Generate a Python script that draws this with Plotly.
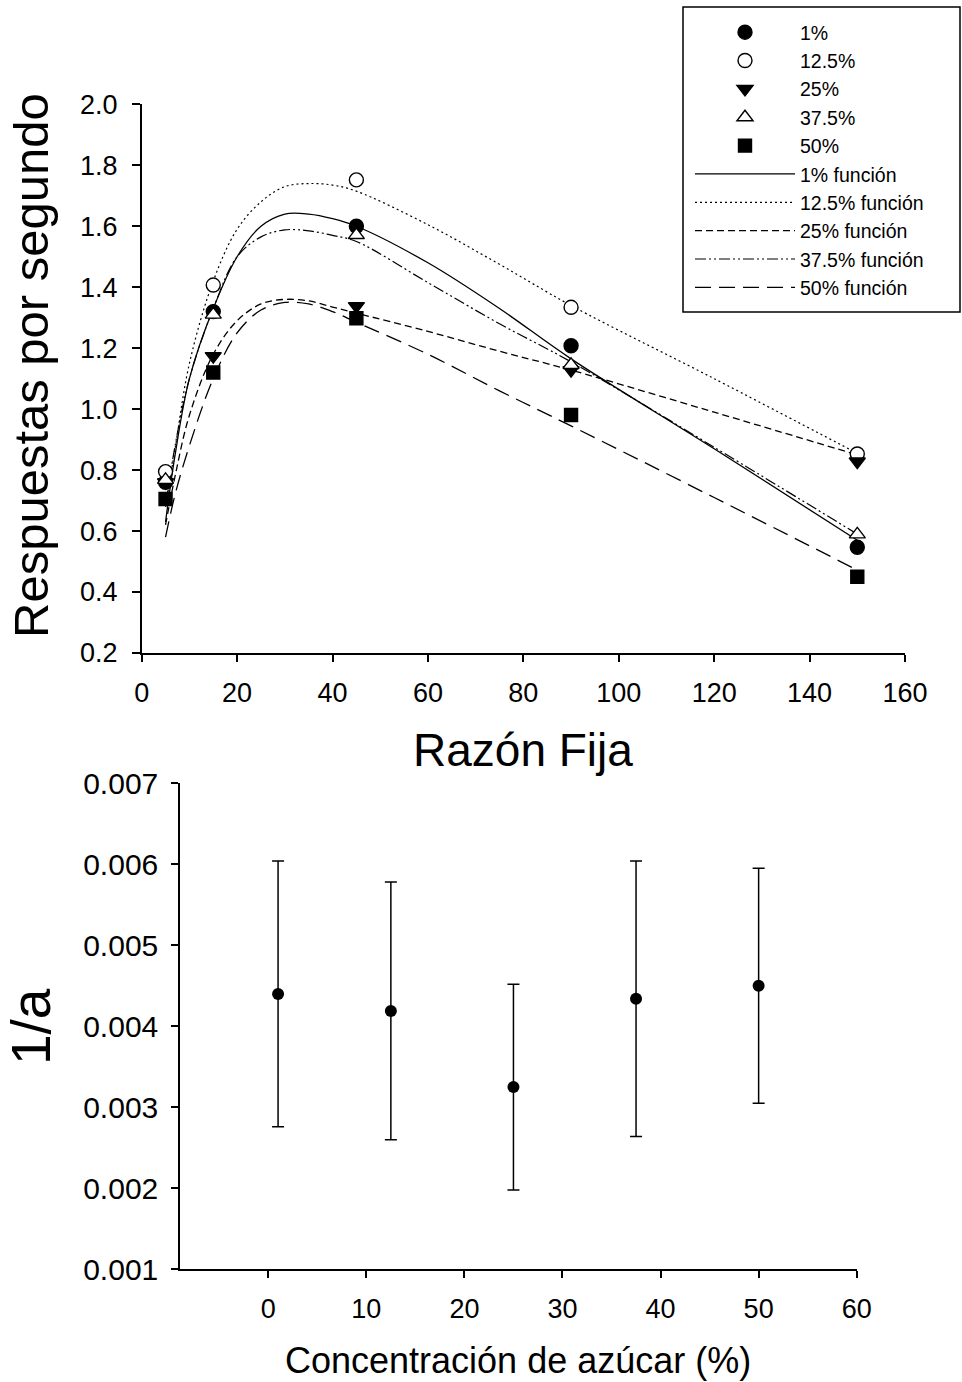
import plotly.graph_objects as go

# ---------------- data: responses per second vs fixed ratio ----------------
razon = [5, 15, 45, 90, 150]
grupos = ["1%", "12.5%", "25%", "37.5%", "50%"]
resp_1 = [0.76, 1.32, 1.60, 1.208, 0.547]
resp_125 = [0.795, 1.407, 1.752, 1.334, 0.853]
resp_25 = [0.76, 1.174, 1.338, 1.128, 0.828]
resp_375 = [0.768, 1.31, 1.571, 1.145, 0.589]
resp_50 = [0.705, 1.12, 1.298, 0.981, 0.450]

# fitted function curves, sampled along the fixed ratio axis
curva_x = [5, 7, 10, 15, 20, 25, 30, 35, 40, 45, 60, 75, 90, 120, 150]
fun_1 = [0.63, 0.85, 1.10, 1.33, 1.50, 1.60, 1.64, 1.64, 1.625, 1.60, 1.48, 1.33, 1.165, 0.87, 0.57]
fun_125 = [0.68, 0.87, 1.15, 1.42, 1.59, 1.68, 1.73, 1.74, 1.735, 1.715, 1.605, 1.475, 1.34, 1.10, 0.855]
fun_25 = [0.62, 0.78, 0.98, 1.18, 1.29, 1.345, 1.36, 1.355, 1.335, 1.315, 1.255, 1.19, 1.128, 0.99, 0.85]
fun_375 = [0.68, 0.88, 1.10, 1.33, 1.50, 1.565, 1.588, 1.585, 1.57, 1.55, 1.415, 1.28, 1.155, 0.875, 0.59]
fun_50 = [0.58, 0.72, 0.88, 1.10, 1.25, 1.325, 1.35, 1.345, 1.32, 1.285, 1.18, 1.06, 0.945, 0.71, 0.472]

# ---------------- data: 1/a vs sugar concentration ----------------
azucar = [1, 12.5, 25, 37.5, 50]
inv_a = [0.00440, 0.00419, 0.00325, 0.00434, 0.00450]
inv_a_err = [0.00164, 0.00159, 0.00127, 0.00170, 0.00145]

W, H = 962, 1382
FONT = "Liberation Sans, Arial, sans-serif"


def px_x(p):
    return p / W


def px_y(p):
    return 1 - p / H


fig = go.Figure()

# function curves (drawn first, listed after the markers in the legend)
estilos = [
    ("1% función", fun_1, "solid", 1.3),
    ("12.5% función", fun_125, "2px,3px", 1.2),
    ("25% función", fun_25, "7px,4px", 1.3),
    ("37.5% función", fun_375, "11px,3px,2px,3px,2px,3px", 1.2),
    ("50% función", fun_50, "16px,8px", 1.3),
]
for i, (nombre, ys, dash, lw) in enumerate(estilos):
    fig.add_trace(go.Scatter(
        x=curva_x, y=ys, mode="lines", name=nombre,
        line=dict(color="black", width=lw, dash=dash, shape="spline", smoothing=1.0),
        legendrank=10 + i, xaxis="x", yaxis="y",
    ))

# observed points
marcadores = [
    (resp_1, "circle", "black"),
    (resp_125, "circle", "white"),
    (resp_25, "triangle-down", "black"),
    (resp_375, "triangle-up", "white"),
    (resp_50, "square", "black"),
]
for i, (ys, sym, fill) in enumerate(marcadores):
    fig.add_trace(go.Scatter(
        x=razon, y=ys, mode="markers", name=grupos[i],
        marker=dict(symbol=sym, size=14 if sym != "square" else 13, color=fill,
                    line=dict(color="black", width=1.4)),
        legendrank=i, xaxis="x", yaxis="y", cliponaxis=False,
    ))

# 1/a with error bars
fig.add_trace(go.Scatter(
    x=azucar, y=inv_a, mode="markers", showlegend=False,
    marker=dict(symbol="circle", size=12, color="black"),
    error_y=dict(type="data", array=inv_a_err, visible=True,
                 color="black", thickness=1.5, width=6),
    xaxis="x2", yaxis="y2", cliponaxis=False,
))

eje = dict(showline=True, linecolor="black", linewidth=1.5, showgrid=False,
           zeroline=False, ticks="outside", tickcolor="black", tickwidth=1.5,
           mirror=False, automargin=False,
           tickfont=dict(family=FONT, size=27, color="black"))

fig.update_layout(
    width=W, height=H,
    margin=dict(l=0, r=0, t=0, b=0, pad=0, autoexpand=False),
    paper_bgcolor="white", plot_bgcolor="white",
    font=dict(family=FONT, color="black"),
    xaxis=dict(eje, domain=[px_x(141.7), px_x(905)], range=[0, 160],
               tickvals=[0, 20, 40, 60, 80, 100, 120, 140, 160], ticklen=7,
               ticklabelstandoff=8, anchor="y"),
    yaxis=dict(eje, domain=[px_y(653), px_y(104.3)], range=[0.2, 2.0],
               tickvals=[0.2, 0.4, 0.6, 0.8, 1.0, 1.2, 1.4, 1.6, 1.8, 2.0],
               tickformat=".1f", ticklen=8, ticklabelstandoff=9, anchor="x"),
    xaxis2=dict(eje, domain=[px_x(180), px_x(856.7)], range=[-9, 60],
                tickvals=[0, 10, 20, 30, 40, 50, 60], ticklen=7,
                ticklabelstandoff=8, anchor="y2"),
    yaxis2=dict(eje, domain=[px_y(1269.3), px_y(783.3)], range=[0.001, 0.007],
                tickvals=[0.001, 0.002, 0.003, 0.004, 0.005, 0.006, 0.007],
                tickformat=".3f", ticklen=7, ticklabelstandoff=7, anchor="x2",
                tickfont=dict(family=FONT, size=30, color="black")),
    legend=dict(x=px_x(690), y=px_y(13), xanchor="left", yanchor="top",
                bgcolor="rgba(0,0,0,0)", borderwidth=0, itemwidth=100,
                font=dict(family=FONT, size=19.5, color="black"),
                tracegroupgap=0),
)

# legend frame
fig.add_shape(type="rect", xref="paper", yref="paper",
              x0=px_x(683), x1=px_x(960), y0=px_y(312), y1=px_y(7),
              line=dict(color="black", width=1.5), fillcolor="rgba(0,0,0,0)")

# axis titles
titulos = [
    ("Respuestas por segundo", 31, 366, -90, 49),
    ("Razón Fija", 523, 750, 0, 46),
    ("1/a", 31, 1027, -90, 55),
    ("Concentración de azúcar (%)", 518, 1360, 0, 36),
]
for texto, cx, cy, ang, fs in titulos:
    fig.add_annotation(text=texto, x=px_x(cx), y=px_y(cy), xref="paper", yref="paper",
                       showarrow=False, textangle=ang, xanchor="center", yanchor="middle",
                       font=dict(family=FONT, size=fs, color="black"))

fig.write_html("out.html")
